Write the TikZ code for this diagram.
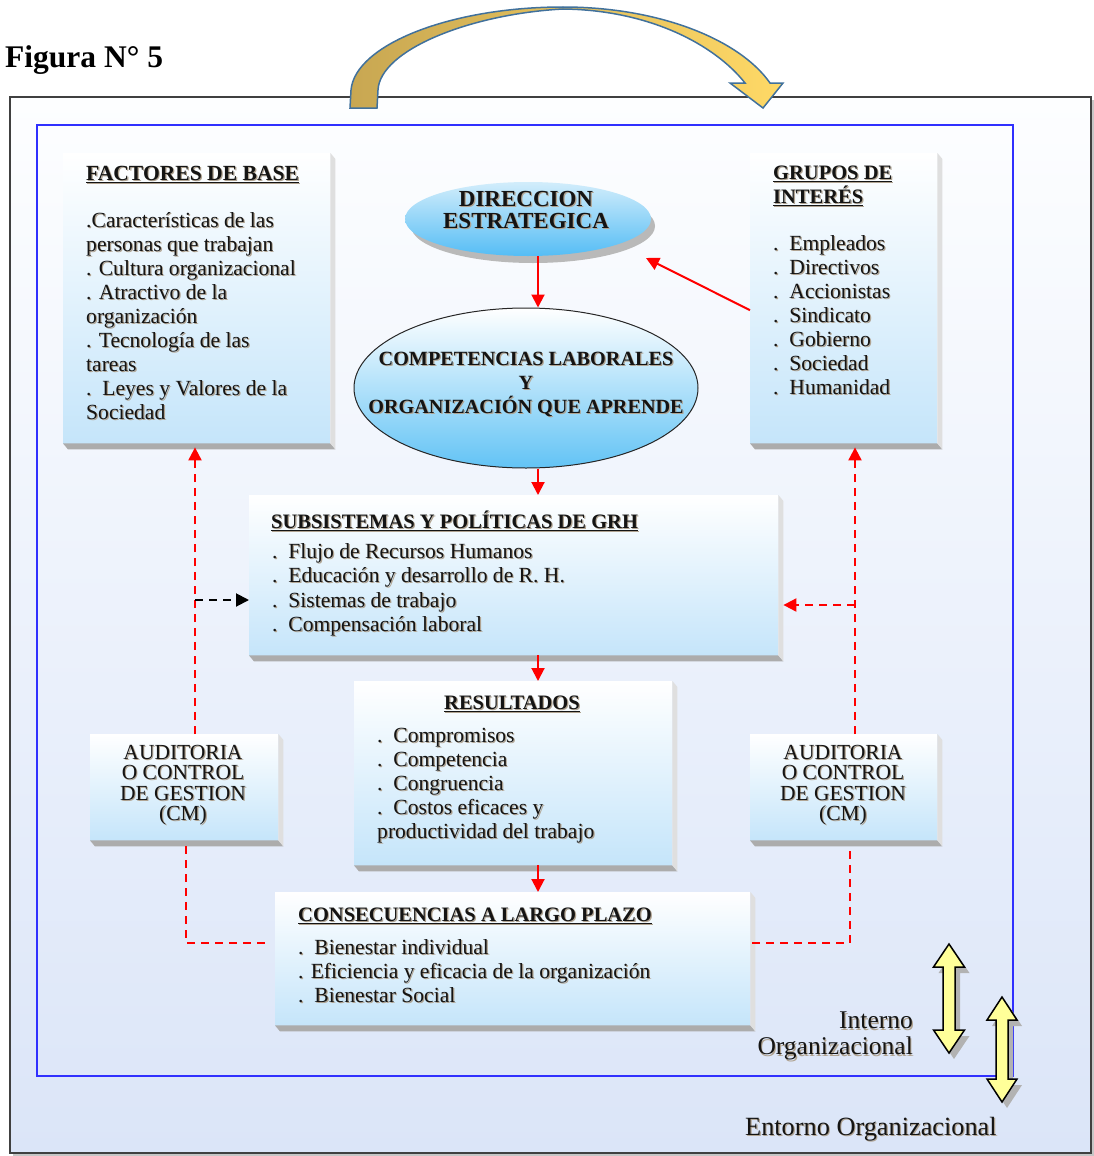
\documentclass[tikz,border=0pt]{standalone}
\usepackage{fontspec}
\setmainfont{Liberation Serif}
\usetikzlibrary{shapes.geometric,arrows.meta}
\definecolor{boxblue}{HTML}{C5E5FA}
\definecolor{ellblue}{HTML}{62C3F5}
\definecolor{dirtop}{HTML}{D2EDFB}
\definecolor{dirbot}{HTML}{55BDF5}
\definecolor{frametop}{HTML}{FDFEFF}
\definecolor{framebot}{HTML}{DBE5F8}
\definecolor{framblue}{HTML}{3030FF}
\definecolor{arrowtan}{HTML}{C8A752}
\definecolor{arrowyel}{HTML}{FFD966}
\definecolor{arrowedge}{HTML}{41719C}
\definecolor{dblyellow}{HTML}{FFFF99}
\definecolor{txt}{HTML}{141414}
\definecolor{txtshadow}{HTML}{B0A391}

% 3-D edge under and right of a panel
\newcommand\panelshade[1]{%
  \fill[gray!65] (#1.south west) -- ([xshift=5pt,yshift=-6pt]#1.south west)
     -- ([xshift=5pt,yshift=-6pt]#1.south east) -- (#1.south east) -- cycle;
  \fill[gray!25] (#1.north east) -- ([xshift=5pt,yshift=-6pt]#1.north east)
     -- ([xshift=5pt,yshift=-6pt]#1.south east) -- (#1.south east) -- cycle;}

% text with a soft drop shadow: style, name, position, text
\newcommand\stxt[4]{%
  \node[#1, text=txtshadow, xshift=1.2pt, yshift=-1.2pt] at (#3) {#4};
  \node[#1] (#2) at (#3) {#4};}

\begin{document}
\begin{tikzpicture}[x=1pt,y=-1pt,
  panel/.style={rectangle, draw=none, inner sep=0pt, anchor=north west,
    top color=white, bottom color=boxblue},
  body/.style={inner sep=0pt, anchor=north west, align=left, text=txt,
    font=\fontsize{21.6}{24}\selectfont},
  head/.style={inner sep=0pt, anchor=north west, align=left, text=txt,
    font=\fontsize{20.5}{24}\selectfont\bfseries},
  audtext/.style={inner sep=0pt, align=center, text=txt,
    font=\fontsize{21.5}{20.5}\selectfont},
  redarrow/.style={draw=red, line width=2pt, -{Triangle[length=13pt,width=13pt]}},
  reddash/.style={draw=red, line width=2pt, dash pattern=on 8pt off 6pt},
  blackdash/.style={draw=black, line width=2pt, dash pattern=on 8pt off 6pt,
    -{Triangle[length=13pt,width=13pt]}},
  dblarrow/.style={fill=dblyellow, draw=black, line width=1.5pt, line join=miter}
]
\useasboundingbox (0,0) rectangle (1093,1156);

% title
\node[inner sep=0pt, anchor=base west, font=\fontsize{31.5}{32}\selectfont\bfseries] (title) at (5,67) {Figura N° 5};

% outer environment frame and inner organisational frame
\fill[gray!45] (13,100) rectangle (1094,1156);
\draw[draw=black!75, line width=2pt, top color=frametop, bottom color=framebot] (10,97) rectangle (1091,1153);
\draw[framblue, line width=2pt] (37,125) rectangle (1013,1076);

% curved arrow over the top
\draw[arrowedge, line width=1.5pt, line join=miter, left color=arrowtan, right color=arrowyel]
  (350,108) -- (351,90) .. controls (355,45) and (450,7) .. (563,7)
  .. controls (660,7) and (740,40) .. (770,83)
  -- (783,83) -- (763,108) -- (730,83) -- (745,83)
  .. controls (715,45) and (650,10) .. (563,9)
  .. controls (470,14) and (380,50) .. (378,90) -- (377,108) -- cycle;

% panels
\node[panel, minimum width=267pt, minimum height=290pt] (fb) at (63,153) {};
\node[panel, minimum width=187pt, minimum height=290pt] (gi) at (750,153) {};
\node[panel, minimum width=529pt, minimum height=160pt] (sub) at (249,495) {};
\node[panel, minimum width=318pt, minimum height=184pt] (res) at (354,681) {};
\node[panel, minimum width=188pt, minimum height=106pt] (audl) at (90,734) {};
\node[panel, minimum width=187pt, minimum height=106pt] (audr) at (750,734) {};
\node[panel, minimum width=475pt, minimum height=133pt] (cons) at (275,892) {};
\panelshade{fb}\panelshade{gi}\panelshade{sub}\panelshade{res}
\panelshade{audl}\panelshade{audr}\panelshade{cons}

% ellipses
\fill[gray!55] (533,226) ellipse [x radius=122pt, y radius=37pt];
\node[ellipse, draw=none, inner sep=0pt, minimum width=246pt, minimum height=74pt,
  top color=dirtop, bottom color=dirbot] (dir) at (528,219) {};
\node[ellipse, draw=black!85, line width=1pt, inner sep=0pt, minimum width=344pt,
  minimum height=160pt, top color=white, bottom color=ellblue] (comp) at (526,388) {};

% texts
\stxt{head, font=\fontsize{21.6}{24}\selectfont\bfseries}{fbh}{86,166}{\underline{FACTORES DE BASE}}
\stxt{body}{fbt}{86,212}{.Características de las\\
personas que trabajan\\
. Cultura organizacional\\
. Atractivo de la\\
organización\\
. Tecnología de las\\
tareas\\
.~~Leyes y Valores de la\\
Sociedad}

\stxt{head}{gih}{773,166}{\underline{GRUPOS DE}\\\underline{INTERÉS}}
\stxt{body}{git}{773,235}{.~~Empleados\\.~~Directivos\\.~~Accionistas\\.~~Sindicato\\.~~Gobierno\\.~~Sociedad\\.~~Humanidad}

\stxt{inner sep=0pt, align=center, text=txt, font=\fontsize{23}{22}\selectfont\bfseries}{dirt}{526,210}{DIRECCION\\ESTRATEGICA}
\stxt{inner sep=0pt, align=center, text=txt, font=\fontsize{20.2}{24}\selectfont\bfseries}{compt}{526,384}{COMPETENCIAS LABORALES\\Y\\ORGANIZACIÓN QUE APRENDE}

\stxt{head}{subh}{271,511}{\underline{SUBSISTEMAS Y POLÍTICAS DE GRH}}
\stxt{body, font=\fontsize{21.6}{24.5}\selectfont}{subt}{272,543}{.~~Flujo de Recursos Humanos\\
.~~Educación y desarrollo de R. H.\\
.~~Sistemas de trabajo\\
.~~Compensación laboral}

\stxt{head, anchor=north}{resh}{512,696}{\underline{RESULTADOS}}
\stxt{body}{rest}{377,728}{.~~Compromisos\\.~~Competencia\\.~~Congruencia\\.~~Costos eficaces y\\productividad del trabajo}

\stxt{head}{consh}{298,908}{\underline{CONSECUENCIAS A LARGO PLAZO}}
\stxt{body}{const}{298,939}{.~~Bienestar individual\\. Eficiencia y eficacia de la organización\\.~~Bienestar Social}

\stxt{audtext}{audlt}{183,785}{AUDITORIA\\O CONTROL\\DE GESTION\\(CM)}
\stxt{audtext}{audrt}{843,785}{AUDITORIA\\O CONTROL\\DE GESTION\\(CM)}

\stxt{inner sep=0pt, anchor=north east, align=right, text=txt, font=\fontsize{25.5}{26}\selectfont}{intl}{913,1012}{Interno\\Organizacional}
\stxt{inner sep=0pt, anchor=base west, text=txt, font=\fontsize{26.3}{26}\selectfont}{entl}{745,1135}{Entorno Organizacional}

% vertical guide lines for the connectors
\coordinate (axis) at (538,0);
\coordinate (lx) at (195,0);
\coordinate (rx) at (855,0);
\coordinate (lmid) at (195,600);
\coordinate (rmid) at (855,605);
\coordinate (lb) at (186,943);
\coordinate (rb) at (850,943);
\coordinate (subR) at ([xshift=5pt]sub.east);

% main flow
\draw[redarrow] (dir.south -| axis) -- (comp.north -| axis);
\draw[redarrow] (comp.south -| axis) -- (sub.north -| axis);
\draw[redarrow] (sub.south -| axis) -- (res.north -| axis);
\draw[redarrow] (res.south -| axis) -- (cons.north -| axis);
\draw[redarrow] ([yshift=-12pt]gi.west) -- ([xshift=118pt,yshift=-39pt]dir.center);

% control loops
\draw[reddash, -{Triangle[length=13pt,width=13pt]}] (audl.north -| lx) -- ([yshift=-4pt]fb.south -| lx);
\draw[blackdash] (lmid) -- (lmid -| sub.west);
\draw[reddash, -{Triangle[length=13pt,width=13pt]}] (audr.north -| rx) -- ([yshift=-4pt]gi.south -| rx);
\draw[reddash, -{Triangle[length=13pt,width=13pt]}] (rmid) -- (rmid -| subR);
\draw[reddash, shorten >=7pt, shorten <=6pt] (audl.south -| lb) |- (cons.west |- lb);
\draw[reddash, shorten <=2pt, shorten >=6pt] (cons.east |- rb) -| (audr.south -| rb);

% interno / entorno double arrows
\fill[gray!60] (954,950) -- (969.5,973) -- (960,973) -- (960,1036) -- (969.5,1036) -- (954,1059)
  -- (938.5,1036) -- (948,1036) -- (948,973) -- (938.5,973) -- cycle;
\draw[dblarrow] (949,944) -- (964.5,967) -- (955,967) -- (955,1030) -- (964.5,1030) -- (949,1053)
  -- (933.5,1030) -- (943,1030) -- (943,967) -- (933.5,967) -- cycle;
\fill[gray!60] (1007,1003) -- (1022,1026) -- (1013,1026) -- (1013,1085) -- (1022,1085) -- (1007,1108)
  -- (992,1085) -- (1001,1085) -- (1001,1026) -- (992,1026) -- cycle;
\draw[dblarrow] (1002,997) -- (1017,1020) -- (1008,1020) -- (1008,1079) -- (1017,1079) -- (1002,1102)
  -- (987,1079) -- (996,1079) -- (996,1020) -- (987,1020) -- cycle;
\end{tikzpicture}
\end{document}
